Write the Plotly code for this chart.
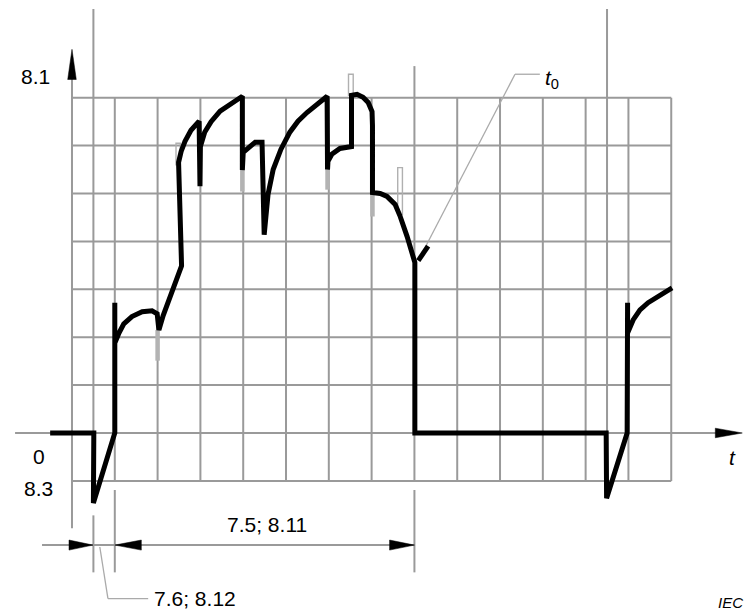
import plotly.graph_objects as go

# ---- data (grid units: x = time columns, y = level rows) ----
trace_x = [-0.51, 0.51, 0.50, 1.00, 1.00, 1.00, 1.10, 1.21, 1.40, 1.64, 1.87, 1.99, 2.03, 2.13,
           2.56, 2.49, 2.55, 2.64, 2.78, 2.97, 2.99, 3.00, 3.10, 3.25, 3.46, 3.72, 3.98, 3.98,
           4.00, 4.28, 4.44, 4.49, 4.51, 4.58, 4.70, 4.88, 5.09, 5.28, 5.49, 5.73, 5.96, 5.97,
           5.98, 6.07, 6.26, 6.53, 6.53, 6.66, 6.80, 6.92, 7.01, 7.02, 7.02, 7.20, 7.36, 7.55,
           7.66, 7.83, 8.01, 8.01, 12.48, 12.49, 12.97, 12.98, 12.98, 13.11, 13.27, 13.46,
           13.67, 13.86, 14.02]
trace_y = [0.00, 0.00, -1.46, 0.00, 2.72, 1.88, 2.09, 2.28, 2.43, 2.53, 2.55, 2.49, 2.15, 2.45,
           3.49, 5.65, 5.88, 6.09, 6.32, 6.51, 5.15, 5.98, 6.28, 6.50, 6.72, 6.88, 7.03, 5.49,
           5.86, 6.07, 6.07, 4.14, 4.41, 4.98, 5.50, 5.92, 6.28, 6.51, 6.69, 6.88, 7.03, 5.50,
           5.67, 5.82, 5.94, 5.98, 7.05, 7.07, 7.01, 6.90, 6.71, 6.42, 5.02, 5.00, 4.94, 4.77,
           4.54, 4.10, 3.56, 0.00, 0.00, -1.36, 0.00, 2.72, 2.09, 2.36, 2.57, 2.72,
           2.84, 2.95, 3.03]

# grey recorder marks (solid)
mark_x = [2.00, 3.98, 5.97, 7.02]
mark_lo = [1.51, 5.04, 5.08, 4.52]
mark_hi = [2.15, 5.49, 5.50, 5.02]
# grey recorder marks (outlined)
omark_x0 = [2.43, 6.46, 7.61]
omark_x1 = [2.53, 6.57, 7.72]
omark_lo = [5.60, 7.05, 4.56]
omark_hi = [6.05, 7.49, 5.54]

grid_cols = list(range(0, 15))
grid_rows = list(range(-1, 8))
extra_cols = [0.5, 12.5]

GRID = "#9a9a9a"
fig = go.Figure()

shapes = []
def line(x0, y0, x1, y1, color=GRID, width=2):
    shapes.append(dict(type="line", x0=x0, y0=y0, x1=x1, y1=y1, xref="x", yref="y",
                       line=dict(color=color, width=width), layer="below"))

# grid
for c in grid_cols:
    line(c, grid_rows[0], c, grid_rows[-1])
for r in grid_rows:
    if r == 0:
        continue
    line(grid_cols[0], r, grid_cols[-1], r)
# x axis
line(-1.33, 0, 15.2, 0)
# y axis
line(0, -1.99, 0, 7.6)
# tall extra verticals
line(extra_cols[0], 8.85, extra_cols[0], -1.46)
line(extra_cols[0], -1.72, extra_cols[0], -2.91)
line(extra_cols[1], 8.85, extra_cols[1], -1.0)
line(8.0, 7.0, 8.0, 7.66)
# extension lines
line(1.0, -1.19, 1.0, -2.91)
line(8.0, -1.19, 8.0, -2.91)
# dimension line
line(-0.70, -2.34, 8.0, -2.34)
# leader 7.6; 8.12
line(0.65, -2.38, 0.84, -3.46, color="#aaaaaa", width=1.3)
line(0.84, -3.46, 1.78, -3.46, color="#aaaaaa", width=1.3)
# leader t0
line(10.93, 7.49, 10.35, 7.49, color="#aaaaaa", width=1.3)
line(10.35, 7.49, 8.22, 3.82, color="#aaaaaa", width=1.3)

def tri(tipx, tipy, dx, dy, hw_x, hw_y):
    # filled arrowhead: tip, base offset (dx, dy), half width (hw_x, hw_y)
    bx, by = tipx + dx, tipy + dy
    path = f"M {tipx},{tipy} L {bx + hw_x},{by + hw_y} L {bx - hw_x},{by - hw_y} Z"
    shapes.append(dict(type="path", path=path, xref="x", yref="y",
                       fillcolor="black", line=dict(color="black", width=0.5)))

# axis arrows
tri(0, 8.01, 0, -0.63, 0.10, 0)
tri(15.66, 0, -0.63, 0, 0, 0.10)
# dimension arrows
tri(0.49, -2.34, -0.56, 0, 0, 0.105)
tri(1.0, -2.34, 0.62, 0, 0, 0.105)
tri(8.0, -2.34, -0.58, 0, 0, 0.105)
# t0 leader arrowhead (short thick stub)
shapes.append(dict(type="line", x0=8.09, y0=3.60, x1=8.32, y1=3.90, xref="x", yref="y",
                   line=dict(color="black", width=5)))

# outlined grey marks
for x0, x1, lo, hi in zip(omark_x0, omark_x1, omark_lo, omark_hi):
    shapes.append(dict(type="rect", x0=x0, x1=x1, y0=lo, y1=hi, xref="x", yref="y",
                       line=dict(color="#b0b0b0", width=1.4), fillcolor="rgba(255,255,255,0)",
                       layer="below"))

# solid grey marks
for x, lo, hi in zip(mark_x, mark_lo, mark_hi):
    fig.add_trace(go.Scatter(x=[x, x], y=[lo, hi], mode="lines",
                             line=dict(color="#b3b3b3", width=4.5), hoverinfo="skip",
                             showlegend=False))

# main trace
fig.add_trace(go.Scatter(x=trace_x, y=trace_y, mode="lines",
                         line=dict(color="black", width=5),
                         hoverinfo="skip", showlegend=False))

FONT = dict(family="Liberation Sans, Arial, sans-serif", size=21, color="black")
ann = []
def text(x, y, s, xanchor="center", font=FONT):
    ann.append(dict(x=x, y=y, xref="x", yref="y", text=s, showarrow=False,
                    xanchor=xanchor, yanchor="middle", font=font))

text(-0.86, 7.45, "8.1")
text(-0.77, -0.50, "0")
text(-0.79, -1.15, "8.3")
text(15.44, -0.52, "<i>t</i>")
text(11.0, 7.40, "<i>t</i><sub>0</sub>", xanchor="left")
text(4.56, -1.90, "7.5; 8.11")
text(1.88, -3.45, "7.6; 8.12", xanchor="left")
text(15.05, -3.54, "<i>IEC</i>", xanchor="left",
     font=dict(family="Liberation Sans, Arial, sans-serif", size=15, color="black"))

fig.update_layout(
    width=744, height=615,
    margin=dict(l=0, r=0, t=0, b=0),
    paper_bgcolor="white", plot_bgcolor="white",
    shapes=shapes, annotations=ann,
    xaxis=dict(range=[-1.682, 15.70], visible=False, fixedrange=True),
    yaxis=dict(range=[-3.80, 9.04], visible=False, fixedrange=True),
    showlegend=False,
)

fig.write_html("out.html", config={"displayModeBar": False},
               post_script="document.body.style.margin='0';")
